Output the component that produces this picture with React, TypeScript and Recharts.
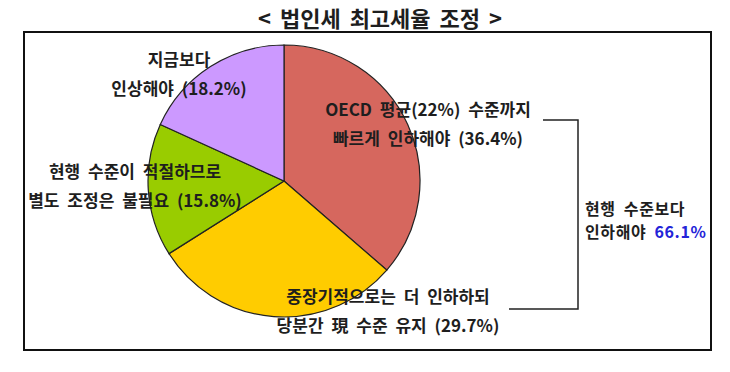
import { PieChart, Pie, Cell } from 'recharts'

// survey: 법인세 최고세율 조정 (%)
const categories = ['빠르게 인하', '중장기 인하·당분간 유지', '현행 유지', '인상']
const shares = [36.4, 29.7, 15.8, 18.2]
const sliceColors = ['#d6675e', '#ffcc00', '#99cc00', '#cc99ff']
const lowerTotal = 66.1

const data = categories.map((name, i) => ({ name, value: shares[i] }))

const FONT = '"Noto Sans CJK KR", "Noto Sans", sans-serif'
const INK = '#1e1e1e'

function Label({ x, y, lines }: { x: number; y: number; lines: string[] }) {
  return (
    <g>
      {lines.map((t, i) => (
        <text
          key={i}
          x={x}
          y={y + i * 29}
          textAnchor="middle"
          dominantBaseline="central"
          fontFamily={FONT}
          fontWeight={700}
          fontSize={17}
          wordSpacing={4}
          fill={INK}
        >
          {t}
        </text>
      ))}
    </g>
  )
}

export default function App() {
  return (
    <div style={{ position: 'absolute', left: 0, top: 0, width: 730, height: 372, background: '#fff' }}>
      <PieChart width={730} height={372} margin={{ top: 0, right: 0, bottom: 0, left: 0 }}>
        <Pie
          data={data}
          dataKey="value"
          nameKey="name"
          cx={284}
          cy={181}
          outerRadius={136}
          startAngle={90}
          endAngle={-270}
          stroke="#222"
          strokeWidth={1.2}
          isAnimationActive={false}
        >
          {data.map((_, i) => (
            <Cell key={i} fill={sliceColors[i]} />
          ))}
        </Pie>
      </PieChart>
      <svg width={730} height={372} style={{ position: 'absolute', left: 0, top: 0, pointerEvents: 'none' }}>
        <text x={380} y={17} textAnchor="middle" dominantBaseline="central" fontFamily={FONT} fontWeight={700} fontSize={22} wordSpacing={4} fill={INK}>
          {'< 법인세 최고세율 조정 >'}
        </text>
        <rect x={24} y={32} width={687} height={318} fill="none" stroke="#111" strokeWidth={2} />

        <Label x={179} y={58} lines={['지금보다', '인상해야 (18.2%)']} />
        <Label x={428} y={108} lines={['OECD 평균(22%) 수준까지', '빠르게 인하해야 (36.4%)']} />
        <Label x={135} y={170} lines={['현행 수준이 적절하므로', '별도 조정은 불필요 (15.8%)']} />
        <Label x={388} y={295} lines={['중장기적으로는 더 인하하되', '당분간 現 수준 유지 (29.7%)']} />

        <polyline points="543,120 578,120 578,309 509,309" fill="none" stroke="#222" strokeWidth={1.5} />
        <text x={585} y={208} dominantBaseline="central" fontFamily={FONT} fontWeight={700} fontSize={16} letterSpacing={0.6} wordSpacing={4} fill={INK}>
          현행 수준보다
        </text>
        <text x={585} y={231} dominantBaseline="central" fontFamily={FONT} fontWeight={700} fontSize={16} letterSpacing={0.6} wordSpacing={4} fill={INK}>
          인하해야 <tspan fill="#2424d8">{lowerTotal}%</tspan>
        </text>
      </svg>
    </div>
  )
}
